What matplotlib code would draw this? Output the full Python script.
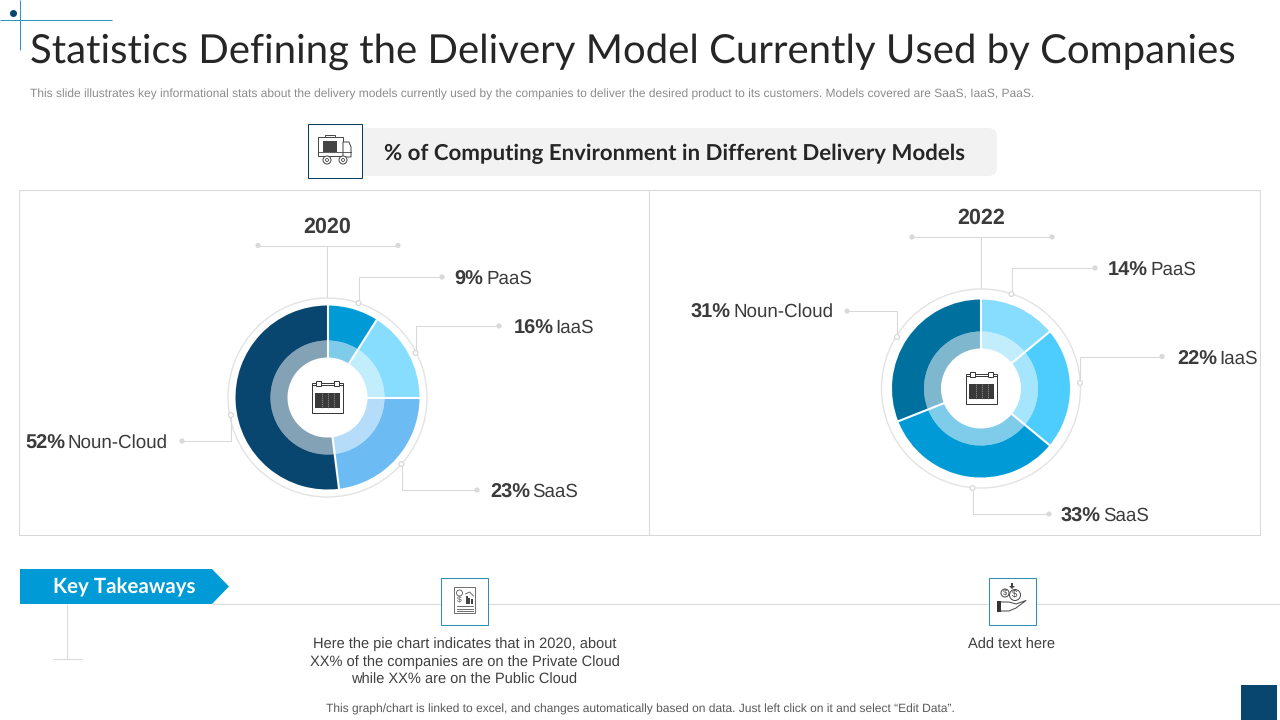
import matplotlib
matplotlib.use("Agg")
import math
import matplotlib.pyplot as plt
from matplotlib.patches import Rectangle, Circle, Polygon, FancyBboxPatch

plt.rcParams["text.hinting"] = "no_hinting"
plt.rcParams["text.hinting_factor"] = 8

# ---------- data ----------
categories = ["PaaS", "IaaS", "SaaS", "Noun-Cloud"]
values_2020 = [9, 16, 23, 52]
values_2022 = [14, 22, 33, 31]
colors_2020 = ["#009BD6", "#87DDFD", "#6CBBF2", "#08466F"]
colors_2022 = ["#87DDFD", "#4DCDFD", "#009BD6", "#00719F"]
title = "Statistics Defining the Delivery Model Currently Used by Companies"
subtitle = ("This slide illustrates key informational stats about the delivery models currently used by the "
            "companies to deliver the desired product to its customers. Models covered are SaaS, IaaS, PaaS.")
banner = "% of Computing Environment in Different Delivery Models"
takeaway_1 = ["Here the pie chart indicates that in 2020, about",
              "XX% of the companies are on the Private Cloud",
              "while XX% are on the Public Cloud"]
takeaway_2 = "Add text here"
footer = "This graph/chart is linked to excel, and changes automatically based on data. Just left click on it and select “Edit Data”."

GRID = "#D9D9D9"
DARK = "#08466F"
W, H = 1280, 720
fig = plt.figure(figsize=(12.8, 7.2), dpi=100, facecolor="white")
ax = fig.add_axes([0, 0, 1, 1])
ax.set_xlim(0, W); ax.set_ylim(H, 0); ax.axis("off")
SANS = "Liberation Sans"
GEO = "Lato"
THIN = 0.75


def line(xs, ys, color=GRID, lw=THIN, z=2):
    ax.plot(xs, ys, color=color, lw=lw, solid_capstyle="butt", zorder=z)


def dot(x, y, r=2.6, fc="#D9D9D9", ec="none", z=3):
    ax.add_patch(Circle((x, y), r, fc=fc, ec=ec, lw=0.8, zorder=z))


def donut(cx, cy, r_out, values, colors):
    """Two nested ax.pie rings, with white separators taken from the wedge angles."""
    R = 60 + r_out
    a = fig.add_axes([(cx - R) / W, 1 - (cy + R) / H, 2 * R / W, 2 * R / H], zorder=5)
    a.patch.set_alpha(0)
    wedges, _ = a.pie(values, colors=colors, radius=r_out, startangle=90, counterclock=False, frame=True,
                      wedgeprops=dict(width=r_out - 57, linewidth=0))
    a.pie(values, colors=colors, radius=57, startangle=90, counterclock=False, frame=True,
          wedgeprops=dict(width=17, linewidth=0, alpha=0.5))
    for w in wedges:
        t = math.radians(w.theta1)
        a.plot([39 * math.cos(t), (r_out + 1) * math.cos(t)], [39 * math.sin(t), (r_out + 1) * math.sin(t)],
               color="white", lw=1.5, solid_capstyle="butt", zorder=6)
    a.set_xlim(-R, R); a.set_ylim(-R, R); a.set_aspect("equal"); a.axis("off")


def calendar(cx, cy):
    k = "#333333"
    z = 8
    ax2.add_patch(Rectangle((cx - 15.5, cy - 13), 31, 30, fc="white", ec=k, lw=0.7, zorder=z))
    ax2.plot([cx - 15.5, cx + 15.5], [cy - 11, cy - 11], color=k, lw=0.7, zorder=z)
    for dx in (-9, 9):
        ax2.add_patch(Rectangle((cx + dx - 2.5, cy - 15), 5, 5, fc="white", ec=k, lw=0.7, zorder=z + 1))
    ax2.add_patch(Rectangle((cx - 12.5, cy - 3), 25, 15, fc="#3A3A3A", ec="none", zorder=z))
    for dx in (-6, 0, 6):
        ax2.plot([cx + dx, cx + dx], [cy - 3, cy + 12], color="#999999", lw=0.5, ls=(0, (2, 1)), zorder=z + 1)


def truck(cx, cy):
    k = "#444444"
    z = 4
    ax.add_patch(Rectangle((cx - 16, cy - 12), 25, 19, fc="white", ec=k, lw=0.7, zorder=z))
    ax.add_patch(Rectangle((cx - 11, cy - 8), 14, 11, fc="#444444", ec="none", zorder=z))
    ax.add_patch(Rectangle((cx - 9, cy - 14), 10, 2, fc="white", ec=k, lw=0.7, zorder=z))
    ax.add_patch(Polygon([(cx + 9, cy - 7), (cx + 15, cy - 7), (cx + 17, cy - 2), (cx + 17, cy + 8), (cx + 9, cy + 8)],
                         fc="white", ec=k, lw=0.7, zorder=z))
    ax.plot([cx - 16, cx + 17], [cy + 3, cy + 3], color=k, lw=0.6, zorder=z)
    for dx in (-7, 9):
        ax.add_patch(Circle((cx + dx, cy + 11), 4, fc="white", ec=k, lw=0.7, zorder=z + 1))
        ax.add_patch(Circle((cx + dx, cy + 11), 1.5, fc="white", ec=k, lw=0.6, zorder=z + 2))


def document(cx, cy):
    k = "#555555"
    z = 4
    ax.add_patch(Rectangle((cx - 10.5, cy - 14), 21, 26, fc="white", ec=k, lw=0.6, zorder=z))
    ax.add_patch(Circle((cx - 5, cy - 8), 3, fc="none", ec=k, lw=0.6, zorder=z))
    ax.text(cx - 5, cy - 1, "$", fontsize=6, ha="center", va="center", color=k, family=SANS, zorder=z, parse_math=False)
    for dx, h in zip((2, 4.5, 7), (8, 6, 5)):
        ax.add_patch(Rectangle((cx + dx - 1, cy + 3 - h), 2, h, fc="#444444", ec="none", zorder=z))
    ax.plot([cx + 1, cx + 5, cx + 9], [cy - 7, cy - 9, cy - 5], color=k, lw=0.6, zorder=z)
    for dy in (5, 8, 10):
        ax.plot([cx - 8, cx + 8], [cy + dy, cy + dy], color=k, lw=0.6, zorder=z)


def hand(cx, cy):
    k = "#444444"
    z = 4
    ax.add_patch(Circle((cx - 7, cy - 8), 4, fc="white", ec=k, lw=0.7, zorder=z))
    ax.add_patch(Circle((cx + 3, cy - 6), 5.5, fc="white", ec=k, lw=0.7, zorder=z))
    ax.text(cx - 7, cy - 8, "$", fontsize=5.5, ha="center", va="center", color=k, family=SANS, zorder=z + 1, parse_math=False)
    ax.text(cx + 3, cy - 6, "$", fontsize=7, ha="center", va="center", color=k, family=SANS, zorder=z + 1, parse_math=False)
    ax.add_patch(Polygon([(cx - 1, cy - 18), (cx + 1, cy - 18), (cx + 1, cy - 15), (cx + 3, cy - 15), (cx, cy - 12), (cx - 3, cy - 15), (cx - 1, cy - 15)],
                         fc=k, ec="none", zorder=z))
    ax.add_patch(Rectangle((cx - 15, cy + 0), 4, 11, fc="#333333", ec="none", zorder=z))
    ax.plot([cx - 11, cx - 3, cx + 4, cx + 14, cx + 4, cx - 3, cx - 11],
            [cy + 1, cy + 1, cy + 3, cy - 0.5, cy + 7, cy + 10, cy + 10], color=k, lw=0.7, zorder=z)


# ---------- header ----------
line([20, 20], [0, 50], "#2E95BE")
line([0, 112], [20, 20], "#2E95BE")
dot(13.5, 13.5, 3.5, DARK)
ax.text(30, 62.5, title, family=GEO, fontsize=28.9, color="#262626", va="baseline", ha="left")
ax.text(30, 94, subtitle, family=SANS, fontsize=8.65, color="#8C8C8C", va="center", ha="left")

ax.add_patch(FancyBboxPatch((350, 128), 647, 48, boxstyle="round,pad=0,rounding_size=9", fc="#F2F2F2", ec="none", zorder=1))
ax.add_patch(Rectangle((308, 124), 53.5, 53.5, fc="white", ec="#0B3F5E", lw=THIN, zorder=3))
truck(334, 149)
ax.text(384, 153.5, banner, family=GEO, weight="bold", fontsize=16.06, color="#262626", va="center", ha="left", zorder=3)

# ---------- panels ----------
ax.add_patch(Rectangle((19, 190), 1240.5, 345, fc="none", ec=GRID, lw=THIN, zorder=1))
line([649, 649], [190, 535])

ax.text(327, 227, "2020", family=SANS, weight="bold", fontsize=15.5, color="#3B3B3B", ha="center", va="center")
ax.text(981, 218, "2022", family=SANS, weight="bold", fontsize=15.5, color="#3B3B3B", ha="center", va="center")


def bracket(cx, y, top_ring):
    line([cx - 69, cx + 71], [y, y])
    line([cx, cx], [y, top_ring])
    dot(cx - 69, y); dot(cx + 71, y)


bracket(327, 245.5, 298)
bracket(981, 237, 289)

# rings around the donuts
ax.add_patch(Circle((327.5, 397.5), 99.5, fc="white", ec="#E3E3E3", lw=1.0, zorder=2))
ax.add_patch(Circle((981, 388.5), 99.5, fc="white", ec="#E3E3E3", lw=1.0, zorder=2))

donut(327.5, 397.5, 92, values_2020, colors_2020)
donut(981, 388.5, 89, values_2022, colors_2022)

# overlay axes for the icons in the donut holes
ax2 = fig.add_axes([0, 0, 1, 1], zorder=7)
ax2.set_xlim(0, W); ax2.set_ylim(H, 0); ax2.axis("off"); ax2.patch.set_alpha(0)
calendar(327.5, 396)
calendar(981.5, 387)


def leader(px, py, cy, ex):
    line([px, px, ex], [py, cy, cy])
    dot(ex, cy)
    ax.add_patch(Circle((px, py), 2.4, fc="white", ec="#D5D5D5", lw=0.8, zorder=4))


def label(x_pct, x_name, y, pct, name):
    ax.text(x_pct, y + 1, f"{pct}%", family=SANS, weight="bold", fontsize=14.4, color="#3B3B3B", va="baseline", ha="left")
    ax.text(x_name, y, name, family=SANS, fontsize=13.5, color="#3B3B3B", va="baseline", ha="left")


leader(358.5, 303, 277, 442)
leader(415.5, 353, 326, 499)
leader(401.5, 464, 490, 477)
leader(231, 415, 441, 182)
leader(1011.5, 294, 268, 1095)
leader(1080, 383, 356.5, 1162)
leader(972.5, 488, 514, 1049)
leader(897, 337, 311, 847)

label(454, 486.5, 284, values_2020[0], categories[0])
label(514, 555.5, 333, values_2020[1], categories[1])
label(490, 532.5, 497, values_2020[2], categories[2])
label(25, 67, 448, values_2020[3], categories[3])
label(1108, 1150.5, 275, values_2022[0], categories[0])
label(1177, 1219.5, 364, values_2022[1], categories[1])
label(1061, 1103.5, 521, values_2022[2], categories[2])
label(691, 733, 317, values_2022[3], categories[3])

# ---------- key takeaways ----------
line([212, 1280], [604, 604])
line([67, 67], [604, 659])
line([53, 82], [659, 659])
ax.add_patch(Polygon([(20, 569), (212, 569), (229, 586.5), (212, 604), (20, 604)], fc="#009BD6", ec="none", zorder=3))
ax.text(53, 587, "Key Takeaways", family=GEO, weight="bold", fontsize=14.8, color="white", va="center", ha="left", zorder=4)
for x0 in (441, 989):
    ax.add_patch(Rectangle((x0, 578), 46.5, 46.5, fc="white", ec="#2E8FB0", lw=THIN, zorder=3))
document(464.5, 601)
hand(1012, 601)
for y, s in zip((644.5, 662, 679.5), takeaway_1):
    ax.text(464.5, y, s, family=SANS, fontsize=10.55, color="#404040", ha="center", va="center")
ax.text(1011.5, 644.5, takeaway_2, family=SANS, fontsize=10.55, color="#404040", ha="center", va="center")
ax.text(640.5, 709, footer, family=SANS, fontsize=8.68, color="#595959", ha="center", va="center")
ax.add_patch(Rectangle((1241, 685), 36, 35, fc=DARK, ec="none", zorder=3))

fig.savefig("out.png", dpi=100)
